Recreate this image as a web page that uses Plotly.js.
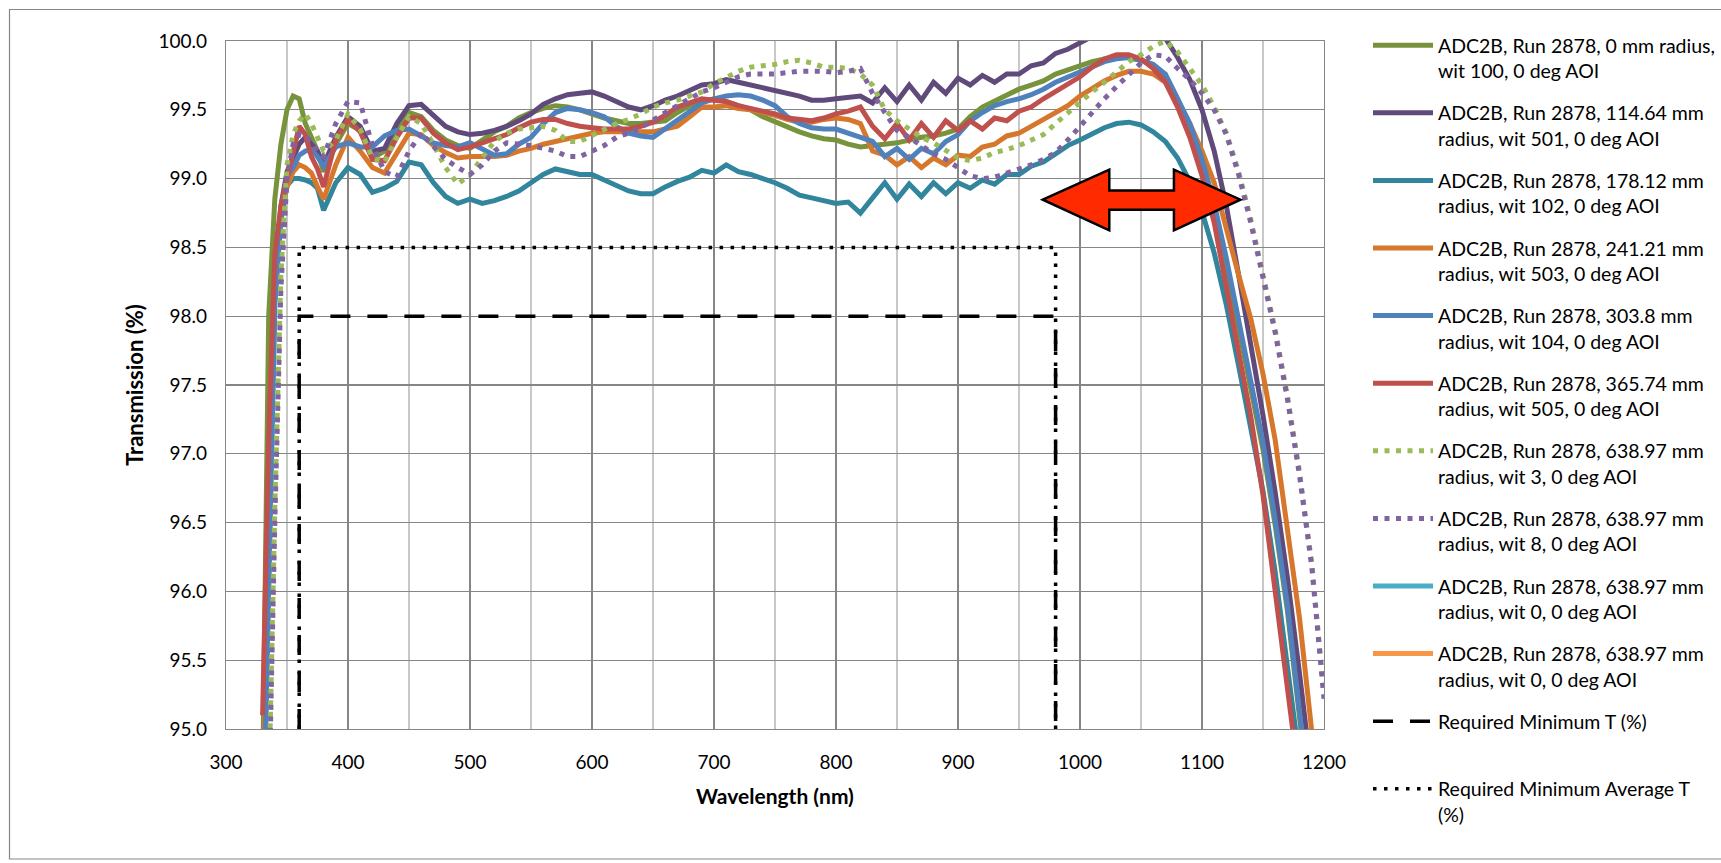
<!DOCTYPE html>
<html><head><meta charset="utf-8">
<script src="https://cdn.plot.ly/plotly-3.0.1.min.js"></script>
<style>html,body{margin:0;padding:0;background:#fff;} #chart{width:1721px;height:863px;}</style>
</head><body><div id="chart"></div>
<script>
// ---------- DATA ----------
const wavelength = [330,335,340,345,350,355,360,365,370,375,380,
 390,400,410,420,430,440,450,460,470,480,490,500,510,520,530,540,550,560,570,580,590,600,
 610,620,630,640,650,660,670,680,690,700,710,720,730,740,750,760,770,780,790,800,
 810,820,830,840,850,860,870,880,890,900,910,920,930,940,950,960,970,980,990,1000,
 1010,1020,1030,1040,1050,1060,1070,1080,1090,1100,1110,1120,1130,1140,1150,1160,1170,1180,1190,1200];

const t_r0_wit100 = [94.6,98.0,98.85,99.25,99.5,99.6,99.58,99.4,99.3,99.2,99.05,
 99.25,99.4,99.35,99.15,99.2,99.35,99.48,99.45,99.35,99.28,99.24,99.22,99.28,99.34,99.38,99.44,99.48,99.51,99.53,99.52,99.5,99.47,
 99.44,99.42,99.4,99.4,99.41,99.42,99.48,99.53,99.56,99.58,99.56,99.53,99.5,99.45,99.41,99.37,99.34,99.31,99.29,99.28,
 99.25,99.23,99.24,99.25,99.26,99.28,99.3,99.31,99.33,99.36,99.45,99.52,99.56,99.61,99.65,99.68,99.71,99.76,99.79,99.82,
 99.85,99.87,99.88,99.88,99.86,99.83,99.75,99.58,99.38,99.1,98.76,98.36,97.92,97.47,97.03,96.48,95.86,95.08,94.3,93.6];

const t_r114_wit501 = [94.5,96.5,98.2,98.8,99.05,99.15,99.25,99.3,99.25,99.2,99.1,
 99.3,99.45,99.38,99.2,99.22,99.4,99.53,99.54,99.46,99.38,99.34,99.32,99.33,99.35,99.38,99.42,99.47,99.54,99.58,99.61,99.62,99.63,
 99.6,99.56,99.52,99.5,99.53,99.57,99.6,99.64,99.68,99.69,99.72,99.7,99.68,99.66,99.64,99.62,99.6,99.57,99.57,99.58,
 99.59,99.6,99.55,99.66,99.56,99.68,99.57,99.7,99.62,99.73,99.68,99.75,99.7,99.76,99.76,99.82,99.84,99.91,99.94,99.99,
 100.04,100.08,100.1,100.12,100.12,100.08,100.02,99.88,99.72,99.5,99.2,98.8,98.3,97.8,97.28,96.72,96.1,95.4,94.65,93.9];

const t_r178_wit102 = [94.0,96.0,98.1,98.7,98.95,99.0,99.0,98.99,98.97,98.93,98.77,
 98.97,99.08,99.03,98.9,98.93,98.98,99.12,99.1,98.97,98.87,98.82,98.85,98.82,98.84,98.87,98.91,98.97,99.03,99.07,99.05,99.03,99.03,
 98.99,98.95,98.91,98.89,98.89,98.94,98.98,99.01,99.06,99.04,99.1,99.05,99.03,99.0,98.97,98.93,98.88,98.86,98.84,98.82,
 98.83,98.75,98.86,98.97,98.85,98.96,98.87,98.97,98.89,98.97,98.93,98.99,98.96,99.03,99.03,99.09,99.12,99.18,99.24,99.28,
 99.33,99.37,99.4,99.41,99.39,99.34,99.27,99.15,98.98,98.76,98.46,98.08,97.64,97.18,96.73,96.14,95.45,94.8,94.1,93.4];

const t_r241_wit503 = [94.5,96.6,98.3,98.75,98.94,99.05,99.1,99.08,99.04,98.94,98.85,
 99.1,99.3,99.2,99.08,99.04,99.18,99.33,99.32,99.24,99.19,99.15,99.16,99.16,99.16,99.17,99.2,99.22,99.25,99.27,99.29,99.31,99.33,
 99.34,99.34,99.34,99.34,99.34,99.36,99.38,99.45,99.52,99.52,99.53,99.51,99.5,99.48,99.46,99.43,99.41,99.41,99.43,99.44,
 99.43,99.4,99.2,99.17,99.1,99.16,99.08,99.15,99.1,99.17,99.16,99.23,99.25,99.31,99.33,99.38,99.43,99.48,99.53,99.6,
 99.66,99.71,99.75,99.78,99.78,99.76,99.7,99.57,99.4,99.2,98.97,98.62,98.3,97.98,97.58,97.1,96.45,95.8,94.98,94.2];

const t_r303_wit104 = [94.0,96.0,98.1,98.75,99.02,99.08,99.17,99.2,99.21,99.16,99.09,
 99.23,99.26,99.23,99.23,99.31,99.35,99.36,99.31,99.26,99.24,99.23,99.26,99.22,99.17,99.18,99.25,99.3,99.4,99.48,99.51,99.5,99.48,
 99.45,99.38,99.33,99.31,99.3,99.36,99.43,99.48,99.55,99.58,99.6,99.61,99.6,99.57,99.53,99.45,99.4,99.37,99.36,99.36,
 99.33,99.3,99.27,99.16,99.22,99.14,99.22,99.18,99.27,99.32,99.42,99.48,99.53,99.56,99.58,99.61,99.65,99.7,99.74,99.78,
 99.82,99.85,99.87,99.88,99.86,99.83,99.76,99.58,99.4,99.14,98.82,98.42,97.97,97.52,97.08,96.52,95.9,95.12,94.35,93.6];

const t_r365_wit505 = [95.1,97.1,98.45,98.8,99.0,99.18,99.38,99.32,99.16,99.07,98.94,
 99.28,99.43,99.34,99.14,99.13,99.3,99.44,99.44,99.33,99.26,99.21,99.23,99.26,99.29,99.32,99.37,99.41,99.43,99.43,99.4,99.38,99.37,
 99.36,99.36,99.36,99.38,99.41,99.46,99.52,99.55,99.58,99.57,99.56,99.53,99.51,99.49,99.47,99.44,99.43,99.42,99.44,99.47,
 99.49,99.52,99.38,99.29,99.4,99.28,99.4,99.3,99.42,99.35,99.42,99.36,99.44,99.42,99.49,99.52,99.58,99.63,99.68,99.74,
 99.81,99.87,99.9,99.9,99.87,99.8,99.7,99.52,99.3,99.02,98.68,98.2,97.75,97.27,96.7,96.05,95.37,94.65,93.9,93.2];

const t_r639_wit3 = [93.0,94.5,96.6,98.3,99.1,99.32,99.42,99.47,99.4,99.3,99.2,
 99.28,99.47,99.36,99.15,99.12,99.3,99.45,99.4,99.25,99.08,98.96,99.03,99.15,99.27,99.33,99.36,99.37,99.38,99.35,99.27,99.27,99.31,
 99.36,99.4,99.43,99.47,99.52,99.55,99.57,99.6,99.63,99.69,99.74,99.78,99.81,99.82,99.83,99.85,99.86,99.84,99.81,99.81,
 99.8,99.76,99.68,99.5,99.42,99.36,99.3,99.26,99.2,99.15,99.13,99.15,99.19,99.21,99.24,99.28,99.32,99.4,99.48,99.56,
 99.63,99.7,99.78,99.85,99.9,99.96,100.0,99.92,99.8,99.68,99.52,99.33,99.05,98.7,98.3,97.9,97.42,96.86,96.2,95.25];

const t_r639_wit8 = [92.8,94.4,96.5,98.2,99.0,99.25,99.32,99.31,99.27,99.2,99.16,
 99.4,99.56,99.55,99.24,99.05,99.01,99.2,99.33,99.24,99.14,99.08,99.03,99.1,99.2,99.26,99.25,99.24,99.22,99.2,99.16,99.16,99.2,
 99.24,99.3,99.33,99.37,99.43,99.48,99.53,99.58,99.63,99.66,99.7,99.74,99.76,99.76,99.76,99.77,99.78,99.78,99.78,99.77,
 99.78,99.8,99.62,99.48,99.35,99.3,99.24,99.18,99.14,99.08,99.02,99.0,99.01,99.04,99.07,99.1,99.14,99.19,99.28,99.38,
 99.49,99.58,99.67,99.76,99.84,99.9,99.89,99.8,99.72,99.62,99.5,99.32,99.03,98.68,98.28,97.88,97.4,96.84,96.18,95.22];

const t_r639_wit0a = [];
const t_r639_wit0b = [];

const reqMinX = [360, 360, 980, 980];
const reqMinY = [95, 98, 98, 95];
const reqAvgX = [360, 360, 980, 980];
const reqAvgY = [95, 98.5, 98.5, 95];

const seriesNames = [
 'ADC2B, Run 2878, 0 mm radius,<br>wit 100, 0 deg AOI',
 'ADC2B, Run 2878, 114.64 mm<br>radius, wit 501, 0 deg AOI',
 'ADC2B, Run 2878, 178.12 mm<br>radius, wit 102, 0 deg AOI',
 'ADC2B, Run 2878, 241.21 mm<br>radius, wit 503, 0 deg AOI',
 'ADC2B, Run 2878, 303.8 mm<br>radius, wit 104, 0 deg AOI',
 'ADC2B, Run 2878, 365.74 mm<br>radius, wit 505, 0 deg AOI',
 'ADC2B, Run 2878, 638.97 mm<br>radius, wit 3, 0 deg AOI',
 'ADC2B, Run 2878, 638.97 mm<br>radius, wit 8, 0 deg AOI',
 'ADC2B, Run 2878, 638.97 mm<br>radius, wit 0, 0 deg AOI',
 'ADC2B, Run 2878, 638.97 mm<br>radius, wit 0, 0 deg AOI',
 'Required Minimum T (%)<br> ',
 'Required Minimum Average T<br>(%)'
];
const xTickVals = [300,400,500,600,700,800,900,1000,1100,1200];

// ---------- STYLE ----------
const series = [t_r0_wit100,t_r114_wit501,t_r178_wit102,t_r241_wit503,t_r303_wit104,t_r365_wit505,t_r639_wit3,t_r639_wit8,t_r639_wit0a,t_r639_wit0b];
const colors = ['#77933C','#604A7B','#31859C','#D7772C','#4F81BD','#C0504D','#9BBB59','#8064A2','#4BACC6','#F79646'];
const dashes = ['solid','solid','solid','solid','solid','solid','5px,6.5px','5px,6.5px','solid','solid'];
const FONT = 'Lato, "Open Sans", sans-serif';

const traces = series.map((ys, i) => ({
  type: 'scatter', mode: 'lines',
  x: ys.length ? wavelength.slice(0, ys.length) : [null],
  y: ys.length ? ys : [null],
  name: seriesNames[i],
  legendgroup: 'g' + i,
  line: {color: colors[i], width: 5, dash: dashes[i]},
  hoverinfo: 'skip'
}));
traces.push({type:'scatter', mode:'lines', x: reqMinX, y: reqMinY, name: seriesNames[10], legendgroup:'g10',
  line:{color:'#000', width:3.5, dash:'20px,17px'}, hoverinfo:'skip'});
traces.push({type:'scatter', mode:'lines', x: reqAvgX, y: reqAvgY, name: seriesNames[11], legendgroup:'g11',
  line:{color:'#000', width:3.5, dash:'3.5px,7.5px'}, hoverinfo:'skip'});

// plot area in px
const W = 1721, H = 863;
const L = 226, R = 1324, T = 41, B = 729;
const pw = R - L, ph = B - T;
const px = v => (v - L) / pw;
const py = v => (B - v) / ph;

// double arrow (in data units)
const ax0 = 969.5, ax1 = 1131.5, ah1 = 1024, ah2 = 1077;
const ayc = 98.847, ayt = 99.065, ayb = 98.624, ast = 98.914, asb = 98.774;
const arrowPath = `M${ax0},${ayc} L${ah1},${ayt} L${ah1},${ast} L${ah2},${ast} L${ah2},${ayt} L${ax1},${ayc} L${ah2},${ayb} L${ah2},${asb} L${ah1},${asb} L${ah1},${ayb} Z`;

const layout = {
  width: W, height: H,
  margin: {l: L, r: W - R, t: T, b: H - B, pad: 0, autoexpand: false},
  paper_bgcolor: '#fff', plot_bgcolor: '#fff',
  font: {family: FONT, color: '#000'},
  showlegend: true,
  xaxis: {
    range: [300, 1200], tickvals: xTickVals, ticktext: xTickVals.map(String),
    showgrid: true, gridcolor: '#868686', gridwidth: 1.2,
    minor: {dtick: 50, tick0: 0, showgrid: true, gridcolor: '#C8C8C8', gridwidth: 1.2},
    showline: true, linecolor: '#868686', linewidth: 1.2, mirror: true,
    ticks: '', tickfont: {family: FONT, size: 19, color: '#000'}, ticklabelstandoff: 16,
    zeroline: false, automargin: false,
    title: {text: '<b>Wavelength (nm)</b>', font: {family: FONT, size: 21, color: '#000'}, standoff: 17}
  },
  yaxis: {
    range: [95, 100], dtick: 0.5, tick0: 95, tickformat: '.1f',
    showgrid: true, gridcolor: '#868686', gridwidth: 1.2,
    showline: true, linecolor: '#868686', linewidth: 1.2, mirror: true,
    ticks: '', tickfont: {family: FONT, size: 19, color: '#000'}, ticklabelstandoff: 14,
    zeroline: false, automargin: false,
    title: {text: '<b>Transmission (%)</b>', font: {family: FONT, size: 22, color: '#000'}, standoff: 8}
  },
  legend: {
    x: px(1368), xanchor: 'left', y: py(26), yanchor: 'top',
    font: {family: FONT, size: 19.5, color: '#000'},
    valign: 'top', traceorder: 'grouped', tracegroupgap: 13.9,
    itemwidth: 60, bgcolor: 'rgba(0,0,0,0)', borderwidth: 0, maxheight: 850
  },
  shapes: [
    {type: 'path', xref: 'x', yref: 'y', path: arrowPath, fillcolor: '#FF2A00',
     line: {color: '#000', width: 2.5}, layer: 'above'},
    {type: 'rect', xref: 'paper', yref: 'paper', x0: px(9.5), x1: px(1760), y0: py(9.5), y1: py(859),
     line: {color: '#868686', width: 1.2}, fillcolor: 'rgba(0,0,0,0)', layer: 'below'}
  ]
};

Plotly.newPlot('chart', traces, layout, {displayModeBar: false, staticPlot: true});
</script>
</body></html>
